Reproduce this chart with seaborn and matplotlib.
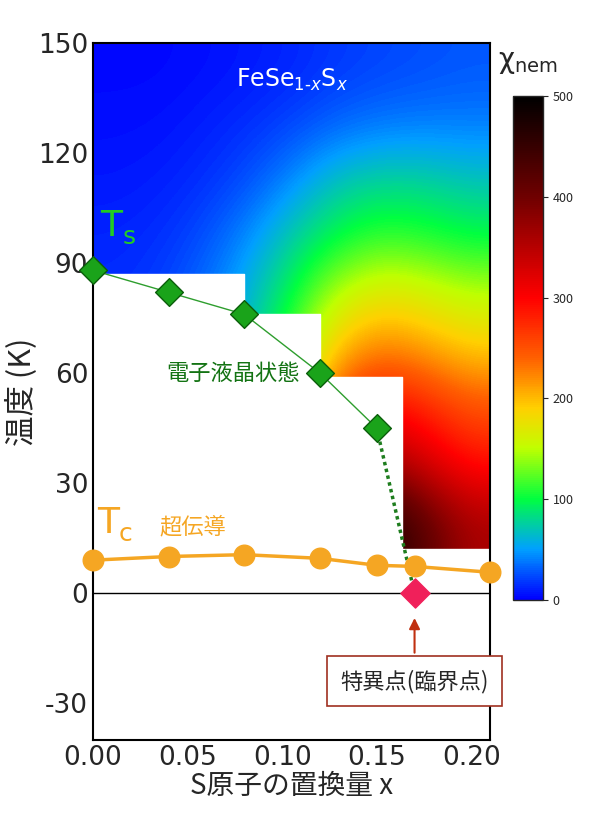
import numpy as np
import matplotlib
matplotlib.use("Agg")
import matplotlib.pyplot as plt
import seaborn as sns
from matplotlib.colors import LinearSegmentedColormap

sns.set_style("white")
plt.rcParams["font.family"] = ["Noto Sans CJK JP", "DejaVu Sans"]

# Ts (nematic transition)
ts_x = [0.00, 0.04, 0.08, 0.12, 0.15]
ts_y = [88, 82, 76, 60, 45]
# Tc (superconducting)
tc_x = [0.00, 0.04, 0.08, 0.12, 0.15, 0.17, 0.21]
tc_y = [9.0, 10.0, 10.5, 9.5, 7.6, 7.3, 5.7]
# critical point
qcp_x, qcp_y = 0.17, 0

# white mask boundary (lower edge of colour map), step-post
mask_x = [0.00, 0.08, 0.12, 0.1635, 0.21]
mask_y = [87, 76, 59, 12, 12]
# chi_nem grid estimated from colours (rows: temps, cols: x)
grid_x = [0.00, 0.03, 0.06, 0.09, 0.12, 0.15, 0.17, 0.19, 0.21]
grid_t = [150, 130, 110, 90, 75, 60, 45, 30, 12]
chi = np.array([
    [3,   3,   5,   8,  12,  18,  22,  25,  28],
    [5,   6,  10,  15,  22,  32,  38,  40,  40],
    [8,  10,  15,  25,  45,  70,  80,  78,  70],
    [12, 15,  25,  45,  75, 100, 115, 110, 100],
    [15, 20,  35,  60, 100, 150, 175, 165, 150],
    [18, 25,  40,  70, 120, 200, 230, 215, 195],
    [20, 28,  45,  80, 140, 260, 300, 280, 250],
    [20, 30,  50,  90, 160, 310, 370, 330, 290],
    [20, 30,  50, 100, 180, 380, 480, 420, 360],
])

cmap = LinearSegmentedColormap.from_list("nem", [
    (0.00, "#0000ff"), (0.10, "#00a0ff"), (0.20, "#00ff40"),
    (0.30, "#c0ff00"), (0.38, "#ffd000"), (0.48, "#ff6000"),
    (0.60, "#ff0000"), (0.80, "#700000"), (1.00, "#000000")])

fig = plt.figure(figsize=(6, 8.24), dpi=100)
ax = fig.add_axes([0.155, 0.102, 0.662, 0.846])
im = ax.imshow(chi, cmap=cmap, vmin=0, vmax=500, aspect="auto",
               interpolation="bicubic", origin="upper",
               extent=[grid_x[0], grid_x[-1], grid_t[-1], grid_t[0]], zorder=0)
ax.fill_between(mask_x, -40, mask_y, step="post", color="white", zorder=1)
ax.fill_between([0, 0.21], -40, 0, color="white", zorder=1)

ax.axhline(0, color="black", lw=1, zorder=2)
ax.plot(ts_x, ts_y, color="#2e9e2e", lw=1, zorder=3)
ax.plot([ts_x[-1], qcp_x], [ts_y[-1], qcp_y], color="#1e7d1e", lw=2.5,
        ls=(0, (1, 1)), zorder=3)
ax.scatter(ts_x, ts_y, marker="D", s=200, color="#1aa31a",
           edgecolor="#0b5e0b", lw=1, zorder=4, clip_on=False)
ax.plot(tc_x, tc_y, color="#f5a623", lw=2.5, zorder=3)
ax.scatter(tc_x, tc_y, marker="o", s=220, color="#f5a623", zorder=4, clip_on=False)
ax.scatter([qcp_x], [qcp_y], marker="D", s=220, color="#f0205a", zorder=5)

ax.text(0.105, 140, "FeSe$_{1\u2010x}$S$_x$", color="white", fontsize=17,
        ha="center", va="center", fontfamily="DejaVu Sans")
ax.text(0.004, 100, "T", color="#22cc22", fontsize=26, va="center",
        fontfamily="DejaVu Sans")
ax.text(0.0155, 97, "s", color="#22cc22", fontsize=18, va="center",
        fontfamily="DejaVu Sans")
ax.text(0.074, 60, "電子液晶状態", color="#137313", fontsize=16,
        ha="center", va="center")
ax.text(0.002, 19, "T", color="#f5a623", fontsize=26, va="center",
        fontfamily="DejaVu Sans")
ax.text(0.0135, 16, "c", color="#f5a623", fontsize=18, va="center",
        fontfamily="DejaVu Sans")
ax.text(0.035, 18, "超伝導", color="#f5a623", fontsize=16, va="center")
ax.annotate("特異点(臨界点)", xy=(qcp_x, -6), xytext=(qcp_x, -24),
            ha="center", va="center", fontsize=16,
            bbox=dict(boxstyle="square,pad=0.6", fc="white", ec="#a03020", lw=1.2),
            arrowprops=dict(arrowstyle="-|>", color="#c03010", lw=1.5))

ax.set_xlim(0, 0.21)
ax.set_ylim(-40, 150)
ax.set_xticks([0, 0.05, 0.10, 0.15, 0.20])
ax.set_xticklabels(["0.00", "0.05", "0.10", "0.15", "0.20"])
ax.set_yticks([-30, 0, 30, 60, 90, 120, 150])
ax.set_yticklabels(["-30", "0", "30", "60", "90", "120", "150"])
ax.tick_params(labelsize=19, direction="in", length=6, width=1.2)
for lab in ax.get_xticklabels() + ax.get_yticklabels():
    lab.set_fontfamily("DejaVu Sans")
ax.set_xlabel("S原子の置換量 x", fontsize=20, labelpad=0)
ax.set_ylabel("温度 (K)", fontsize=22, labelpad=0)
for s in ax.spines.values():
    s.set_linewidth(1.5)
    s.set_color("black")

cax = fig.add_axes([0.855, 0.272, 0.05, 0.611])
cb = fig.colorbar(im, cax=cax, ticks=[0, 100, 200, 300, 400, 500])
cb.ax.tick_params(labelsize=9, direction="out")
cb.outline.set_linewidth(1)
fig.text(0.88, 0.925, "χ$_{\\rm nem}$", fontsize=20, ha="center", va="center",
         fontfamily="DejaVu Sans")

fig.savefig("out.png", dpi=100)
